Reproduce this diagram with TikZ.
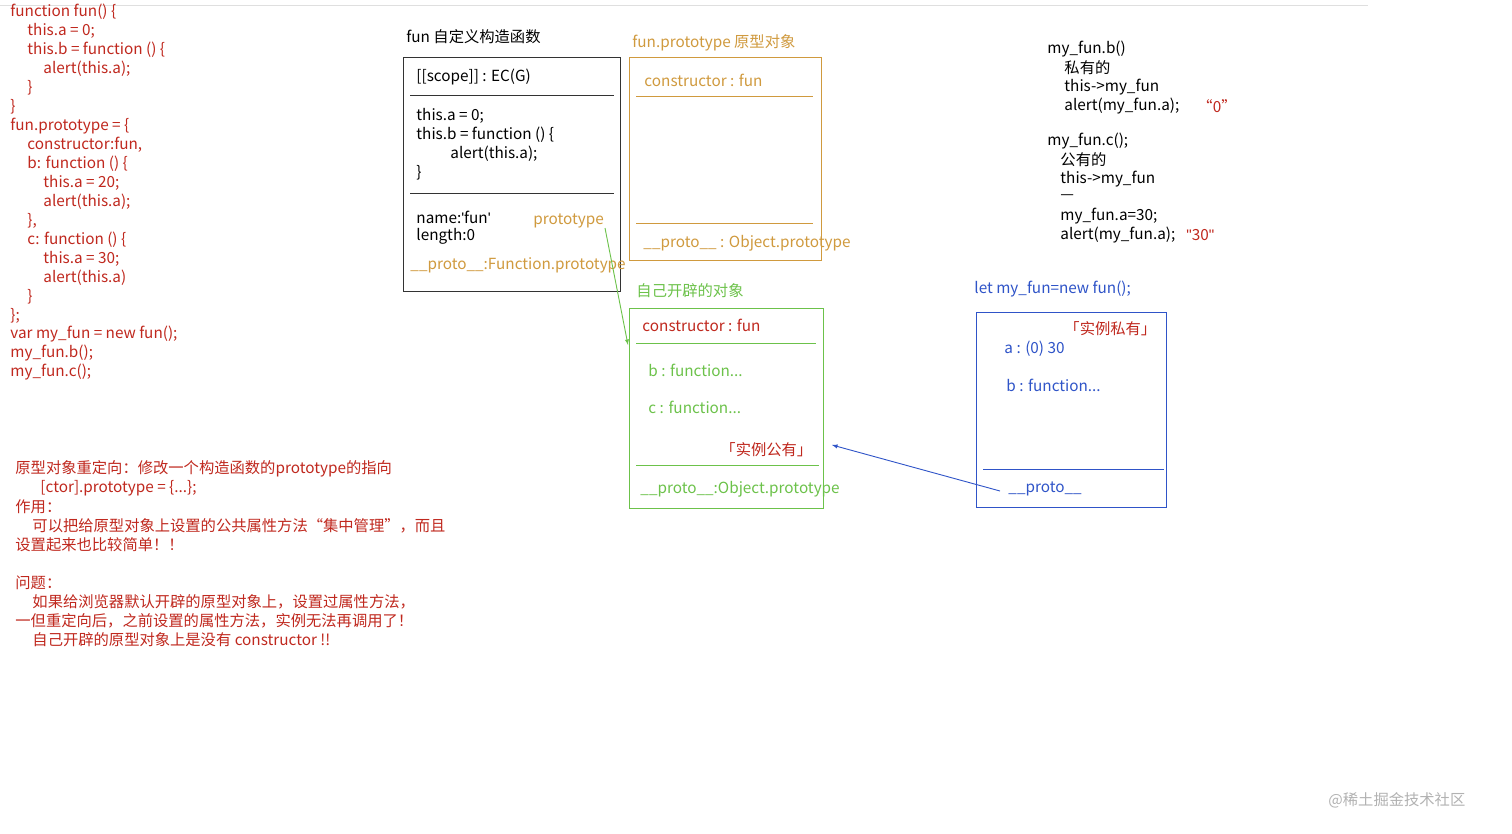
\documentclass[tikz,border=0pt]{standalone}
\usepackage{fontspec}
\setmainfont{Noto Sans CJK SC}
\newfontfamily\lat{Liberation Sans}
\definecolor{cred}{HTML}{C0281E}
\definecolor{corg}{HTML}{D09A3E}
\definecolor{cgrn}{HTML}{6CC24A}
\definecolor{cblu}{HTML}{2F54C8}
\begin{document}
\begin{tikzpicture}[x=1pt,y=-1pt,line width=0.9pt,
  t/.style={anchor=west,inner sep=0pt,font=\fontsize{15.3}{18}\selectfont},
  R/.style={t,text=cred},O/.style={t,text=corg},G/.style={t,text=cgrn},B/.style={t,text=cblu},K/.style={t,text=black}]
\useasboundingbox (0,0) rectangle (1512,834);
\fill[white] (0,0) rectangle (1512,834);
\draw[gray!25,line width=0.6pt] (0,5) -- (1368,5);
% code
\foreach \y/\x/\s [count=\i] in {12/10/{function fun() \{},31/27/{this.a = 0;},50/27/{this.b = function () \{},69/43/{alert(this.a);},88/27/{\}},107/10/{\}},126/10/{fun.prototype = \{},145/27/{constructor:fun,},164/27/{b: function () \{},183/43/{this.a = 20;},202/43/{alert(this.a);},221/27/{\},},240/27/{c: function () \{},259/43/{this.a = 30;},278/43/{alert(this.a)},297/27/{\}},316/10/{\};},334/10/{var my\_fun = new fun();},353/10/{my\_fun.b();},372/10/{my\_fun.c();}}
  \node[R] (c\i) at (\x,\y) {\s};
% black box
\node[K] (t1) at (406,37) {fun 自定义构造函数};
\draw[black!80] (403,57) rectangle (620,291);
\draw[black!80] (410,95) -- (614,95); \draw[black!80] (410,193) -- (614,193);
\node[K] (k1) at (416,77) {[[scope]] : EC(G)};
\node[K] (k2) at (416,116) {this.a = 0;};
\node[K] (k3) at (416,135) {this.b = function () \{};
\node[K] (k4) at (450,154) {alert(this.a);};
\node[K] (k5) at (416,173) {\}};
\node[K] (k6) at (416,217) {name:{\lat\symbol{39}}fun{\lat\symbol{39}}};
\node[K] (k7) at (416,236) {length:0};
\node[O] (k8) at (410,265) {\_\_proto\_\_:Function.prototype};
\node[O] (pt) at (533,221) {prototype};
% orange box
\node[O] (t2) at (632,43) {fun.prototype 原型对象};
\draw[corg] (629,57) rectangle (821,260);
\draw[corg] (636,96) -- (813,96); \draw[corg] (636,223) -- (813,223);
\node[O] (o1) at (644,80) {constructor : fun};
\node[O] (o2) at (643,243) {\_\_proto\_\_ : Object.prototype};
% green box
\node[G] (t3) at (636,291) {自己开辟的对象};
\draw[cgrn] (629,308) rectangle (823,508);
\draw[cgrn] (636,343) -- (816,343); \draw[cgrn] (636,465) -- (819,465);
\node[R] (g1) at (642,325) {constructor : fun};
\node[G] (g2) at (648,370) {b : function...};
\node[G] (g3) at (648,407) {c : function...};
\node[R] (g4) at (720,450) {「实例公有」};
\node[G] (g5) at (640,489) {\_\_proto\_\_:Object.prototype};
\coordinate (ga) at (605,228); \coordinate (gb) at (628,345);
\draw[cgrn,-latex] (ga) -- (gb);
% blue box
\node[B] (t4) at (974,289) {let my\_fun=new fun();};
\draw[cblu] (976,312) rectangle (1166,507);
\draw[cblu] (983,469) -- (1164,469);
\node[R] (b1) at (1064,329) {「实例私有」};
\node[B] (b2) at (1004,349) {a : (0) 30};
\node[B] (b3) at (1006,385) {b : function...};
\node[B] (b4) at (1008,489) {\_\_proto\_\_};
\coordinate (ba) at (1000,491); \coordinate (bb) at (832,445);
\draw[cblu,-latex] (ba) -- (bb);
% right notes
\node[K] (r1) at (1047,49) {my\_fun.b()};
\node[K] (r2) at (1064,68) {私有的};
\node[K] (r3) at (1064,87) {this->my\_fun};
\node[K] (r4) at (1064,106) {alert(my\_fun.a);};
\node[R] (r5) at (1197,106) {“0”};
\node[K] (r6) at (1047,141) {my\_fun.c();};
\node[K] (r7) at (1060,160) {公有的};
\node[K] (r8) at (1060,179) {this->my\_fun};
\node[K] (r9) at (1060,197) {—};
\node[K] (r10) at (1060,216) {my\_fun.a=30;};
\node[K] (r11) at (1060,235) {alert(my\_fun.a);};
\node[R] (r12) at (1186,235) {{\lat\symbol{34}}30{\lat\symbol{34}}};
% bottom notes
\foreach \y/\x/\s [count=\i] in {469/15/{原型对象重定向：修改一个构造函数的prototype的指向},488/40/{[ctor].prototype = \{...\};},507/15/{作用：},526/32/{可以把给原型对象上设置的公共属性方法“集中管理”，而且},545/15/{设置起来也比较简单！！},583/15/{问题：},602/32/{如果给浏览器默认开辟的原型对象上，设置过属性方法，},621/15/{一但重定向后，之前设置的属性方法，实例无法再调用了！},640/32/{自己开辟的原型对象上是没有 constructor !!}}
  \node[R] (n\i) at (\x,\y) {\s};
\node[t,text=gray!60] (wm) at (1328,800) {@稀土掘金技术社区};
\end{tikzpicture}
\end{document}
